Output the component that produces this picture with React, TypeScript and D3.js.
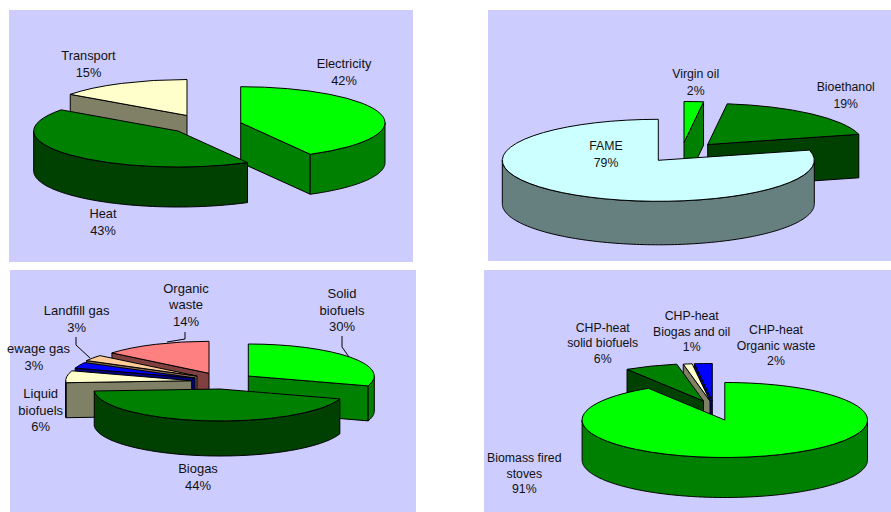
import React from "react";
import * as d3 from "d3";

// ---------- data ----------
const energyNames = [["Electricity"], ["Heat"], ["Transport"]];
const energyValues = [42, 43, 15];

const fuelNames = [["Virgin oil"], ["Bioethanol"], ["FAME"]];
const fuelValues = [2, 19, 79];

const elecNames = [["Solid", "biofuels"], ["Biogas"], ["Liquid", "biofuels"], ["ewage gas"], ["Landfill gas"], ["Organic", "waste"]];
const elecValues = [30, 44, 6, 3, 3, 14];

const heatNames = [["Biomass fired", "stoves"], ["CHP-heat", "solid biofuels"], ["CHP-heat", "Biogas and oil"], ["CHP-heat", "Organic waste"]];
const heatValues = [91, 6, 1, 2];

// ---------- styles & layout ----------
const GREEN = ["#00FF00", "#008000"];
const DARK = ["#008000", "#004000"];
const CREAM = ["#FFFFCC", "#808066"];
const CYAN = ["#CCFFFF", "#668080"];
const BLUE = ["#0000FF", "#000080"];
const PEACH = ["#FFCC99", "#806650"];
const PINK = ["#FF8080", "#804040"];

type Leader = [number, number][];
type Chart = {
  panel: [number, number, number, number];
  names: string[][];
  values: number[];
  colors: string[][];
  apex: [number, number][];
  order: number[];
  rx: number; ry: number; depth: number;
  labels: [number, number][];
  lineGap: number;
  fontSize: number;
  pctDx?: number[];
  leaders?: Leader[];
};

const charts: Chart[] = [
  {
    panel: [9, 10, 404, 252], names: energyNames, values: energyValues,
    colors: [GREEN, DARK, CREAM],
    apex: [[240.7, 122.7], [178, 131], [187, 115.5]],
    order: [2, 0, 1], rx: 144.3, ry: 36, depth: 40,
    labels: [[344, 68], [103, 218], [88.5, 60]], lineGap: 16.5, fontSize: 12.8,
  },
  {
    panel: [488, 10, 403, 251], names: fuelNames, values: fuelValues,
    colors: [GREEN, DARK, CYAN],
    apex: [[684, 142.5], [707.7, 144.5], [658.3, 160.3]],
    order: [0, 1, 2], rx: 156, ry: 41, depth: 43.5,
    labels: [[695.7, 78], [845.7, 91], [606, 150]], lineGap: 16.5, fontSize: 12.3,
  },
  {
    panel: [10, 270, 406, 242], names: elecNames, values: elecValues,
    colors: [GREEN, DARK, CREAM, BLUE, PEACH, PINK],
    apex: [[248.3, 376], [220, 389], [191.7, 380.7], [195, 378], [197, 376], [209, 373.3]],
    order: [5, 4, 3, 2, 0, 1], rx: 126, ry: 32, depth: 35,
    labels: [[342, 298], [198, 473], [40.7, 398], [38.5, 353], [76.7, 315], [186, 292.7]],
    lineGap: 16.5, fontSize: 13, pctDx: [0, 0, 0, -4.5, 0, 0],
    leaders: [
      [[342, 336], [342, 347], [349, 357]],
      [[76, 337], [76, 345], [90, 358]],
      [[185, 332], [185, 339], [167, 342]],
    ],
  },
  {
    panel: [484, 270, 407, 242], names: heatNames, values: heatValues,
    colors: [GREEN, DARK, CREAM, BLUE],
    apex: [[724.8, 420], [703.5, 401], [710, 401], [712.3, 401]],
    order: [3, 2, 1, 0], rx: 142.7, ry: 37.5, depth: 40,
    labels: [[524.3, 462], [602.7, 331.7], [691.7, 320], [776, 334]], lineGap: 15.5, fontSize: 12.3,
  },
];

const FONT = "'Liberation Sans', Arial, sans-serif";
const DEG = Math.PI / 180;

function Slice({ a0, a1, cx, cy, rx, ry, depth, top, side }: {
  a0: number; a1: number; cx: number; cy: number; rx: number; ry: number; depth: number; top: string; side: string;
}) {
  const project = (a: number, dy = 0): [number, number] => [cx + rx * Math.sin(a), cy - ry * Math.cos(a) + dy];
  const line = d3.line();
  const face = (a: number) =>
    line([[cx, cy], project(a), project(a, depth), [cx, cy + depth]]) + "Z";

  const faces: string[] = [];
  if (Math.sin(a0) < -1e-6) faces.push(face(a0));
  if (Math.sin(a1) > 1e-6) faces.push(face(a1));

  // outer wall: only the part of the rim that faces the viewer
  const w0 = Math.max(a0, 90 * DEG);
  const w1 = Math.min(a1, 270 * DEG);
  let wall: string | null = null;
  if (w1 > w0) {
    const steps = d3.range(w0, w1, 1 * DEG).concat(w1);
    wall = line([
      ...steps.map((a) => project(a)),
      ...steps.slice().reverse().map((a) => project(a, depth)),
    ]) + "Z";
  }

  const topPath = d3.arc()({ innerRadius: 0, outerRadius: rx, startAngle: a0, endAngle: a1 } as any) as string;
  const common = { stroke: "#000", strokeWidth: 1, strokeLinejoin: "round" as const };

  return (
    <g>
      {faces.map((d, i) => <path key={i} d={d} fill={side} {...common} />)}
      {wall && <path d={wall} fill={side} {...common} />}
      <path
        d={topPath}
        transform={`translate(${cx},${cy}) scale(1,${ry / rx})`}
        fill={top}
        vectorEffect="non-scaling-stroke"
        {...common}
      />
    </g>
  );
}

function PieChart({ c }: { c: Chart }) {
  const arcs = d3.pie<number>().sort(null)(c.values);
  return (
    <g>
      <rect x={c.panel[0]} y={c.panel[1]} width={c.panel[2]} height={c.panel[3]} fill="#CCCCFF" />
      {c.order.map((i) => (
        <Slice key={i} a0={arcs[i].startAngle} a1={arcs[i].endAngle}
          cx={c.apex[i][0]} cy={c.apex[i][1]} rx={c.rx} ry={c.ry} depth={c.depth}
          top={c.colors[i][0]} side={c.colors[i][1]} />
      ))}
      {(c.leaders || []).map((l, i) => (
        <path key={i} d={d3.line()(l) as string} fill="none" stroke="#000" strokeWidth={1} />
      ))}
      {c.names.map((lines, i) => {
        const [x, y] = c.labels[i];
        return (
          <g key={i} textAnchor="middle" fontFamily={FONT} fontSize={c.fontSize} fill="#111">
            {lines.map((t, j) => <text key={j} x={x} y={y + j * c.lineGap}>{t}</text>)}
            <text x={x + (c.pctDx ? c.pctDx[i] : 0)} y={y + lines.length * c.lineGap}>{c.values[i]}%</text>
          </g>
        );
      })}
    </g>
  );
}

export default function App() {
  return (
    <svg width={891} height={512} viewBox="0 0 891 512"
      style={{ position: "absolute", left: 0, top: 0, display: "block", background: "#fff" }}>
      {charts.map((c, i) => <PieChart key={i} c={c} />)}
    </svg>
  );
}
